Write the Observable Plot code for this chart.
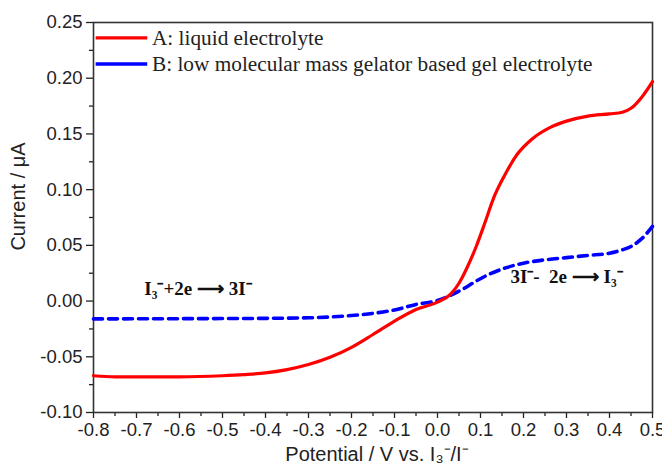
<!DOCTYPE html>
<html>
<head>
<meta charset="utf-8">
<script src="https://cdn.jsdelivr.net/npm/d3@7"></script>
<script src="https://cdn.jsdelivr.net/npm/@observablehq/plot@0.6"></script>
<style>
  html, body { margin: 0; padding: 0; background: #fff; }
  #chart svg { display: block; }
</style>
</head>
<body>
<div id="chart"></div>
<script>
// ---- Data ----
const potentialA = [-0.80,-0.75,-0.70,-0.60,-0.50,-0.45,-0.40,-0.35,-0.30,-0.25,-0.20,-0.15,-0.10,-0.05,0.00,0.03,0.05,0.07,0.09,0.11,0.13,0.155,0.185,0.22,0.26,0.30,0.35,0.40,0.43,0.45,0.475,0.50];
const currentA   = [-0.067,-0.068,-0.068,-0.068,-0.067,-0.066,-0.0645,-0.0615,-0.057,-0.0505,-0.0415,-0.030,-0.018,-0.0075,-0.001,0.006,0.016,0.031,0.049,0.070,0.092,0.112,0.1315,0.1455,0.1555,0.1615,0.166,0.168,0.1695,0.173,0.183,0.197];

const potentialB = [-0.80,-0.60,-0.40,-0.30,-0.20,-0.15,-0.10,-0.05,0.00,0.03,0.06,0.09,0.12,0.16,0.20,0.25,0.30,0.35,0.40,0.43,0.45,0.475,0.50];
const currentB   = [-0.016,-0.0158,-0.0155,-0.015,-0.013,-0.011,-0.008,-0.003,0.0005,0.005,0.011,0.018,0.024,0.030,0.034,0.037,0.039,0.041,0.043,0.046,0.049,0.056,0.067];

const seriesNames  = ["A: liquid electrolyte", "B: low molecular mass gelator based gel electrolyte"];
const seriesColors = ["#ff0000", "#0000ff"];

const xTicks = [-0.8,-0.7,-0.6,-0.5,-0.4,-0.3,-0.2,-0.1,0.0,0.1,0.2,0.3,0.4,0.5];
const xTickLabels = ["-0.8","-0.7","-0.6","-0.5","-0.4","-0.3","-0.2","-0.1","0.0","0.1","0.2","0.3","0.4","0.5"];
const xMinor = [-0.75,-0.65,-0.55,-0.45,-0.35,-0.25,-0.15,-0.05,0.05,0.15,0.25,0.35,0.45];
const yTicks = [-0.10,-0.05,0.00,0.05,0.10,0.15,0.20,0.25];
const yTickLabels = ["-0.10","-0.05","0.00","0.05","0.10","0.15","0.20","0.25"];
const yMinor = [-0.075,-0.025,0.025,0.075,0.125,0.175,0.225];

const xTitle = "Potential / V vs. I\u2083\u207B/I\u207B";
const yTitle = "Current / \u03BCA";
const annotations = [
  {text: "I\u2083\u207B+2e \u27F6 3I\u207B", x: -0.557, y: 0.0105},
  {text: "3I\u207B-  2e \u27F6 I\u2083\u207B", x: 0.30, y: 0.0215}
];

// ---- Build tables ----
const dataA = potentialA.map((x, i) => ({x, y: currentA[i], s: seriesNames[0]}));
const dataB = potentialB.map((x, i) => ({x, y: currentB[i], s: seriesNames[1]}));

// legend layout (in data units, placed top-left inside the frame)
const legendRows = [0.2362, 0.2128];
const legend = seriesNames.map((name, i) => ({name, color: seriesColors[i], x1: -0.795, x2: -0.675, xt: -0.664, y: legendRows[i]}));

const sans = "'Liberation Sans', Arial, Helvetica, sans-serif";
const serif = "'Liberation Serif', 'Times New Roman', Times, serif";

const chart = Plot.plot({
  width: 662,
  height: 475,
  marginTop: 22,
  marginRight: 10,
  marginBottom: 63,
  marginLeft: 93,
  style: {fontFamily: sans, background: "#fff", color: "#222"},
  x: {domain: [-0.8, 0.5]},
  y: {domain: [-0.1, 0.25]},
  marks: [
    Plot.axisX(xTicks, {tickSize: 6, tickPadding: 4, tickFormat: (d) => xTickLabels[xTicks.indexOf(d)], fontSize: 18.5, stroke: "#222", strokeWidth: 1.3, label: null}),
    Plot.axisX(xMinor, {tickSize: 4, tickFormat: () => "", stroke: "#222", strokeWidth: 1.3, label: null}),
    Plot.axisY(yTicks, {tickSize: 7, tickPadding: 4, tickFormat: (d) => yTickLabels[yTicks.indexOf(d)], fontSize: 18.5, stroke: "#222", strokeWidth: 1.3, label: null}),
    Plot.axisY(yMinor, {tickSize: 4, tickFormat: () => "", stroke: "#222", strokeWidth: 1.3, label: null}),
    Plot.frame({stroke: "#333", strokeWidth: 1.6}),
    Plot.line(dataB, {x: "x", y: "y", stroke: seriesColors[1], strokeWidth: 3.6, strokeDasharray: "9 6", curve: "monotone-x"}),
    Plot.line(dataA, {x: "x", y: "y", stroke: seriesColors[0], strokeWidth: 3.2, curve: "monotone-x"}),
    Plot.link(legend, {x1: "x1", x2: "x2", y1: "y", y2: "y", stroke: "color", strokeWidth: 3.4, strokeDasharray: (d, i) => i === 1 ? "9 5" : null}),
    Plot.text(legend, {x: "xt", y: "y", text: "name", textAnchor: "start", lineAnchor: "middle", fontFamily: serif, fontSize: 21.3, fill: "#222"}),
    Plot.text(annotations, {x: "x", y: "y", text: "text", textAnchor: "middle", lineAnchor: "middle", fontFamily: serif, fontWeight: "bold", fontSize: 19, fill: "#111"}),
    Plot.text([yTitle], {frameAnchor: "left", dx: -75, dy: -21, rotate: -90, textAnchor: "middle", lineAnchor: "middle", fontSize: 20, fill: "#222"}),
    Plot.text([xTitle], {frameAnchor: "bottom", dx: 4, dy: 42, textAnchor: "middle", lineAnchor: "middle", fontSize: 20, fill: "#222"})
  ]
});
document.getElementById("chart").appendChild(chart);
</script>
</body>
</html>
